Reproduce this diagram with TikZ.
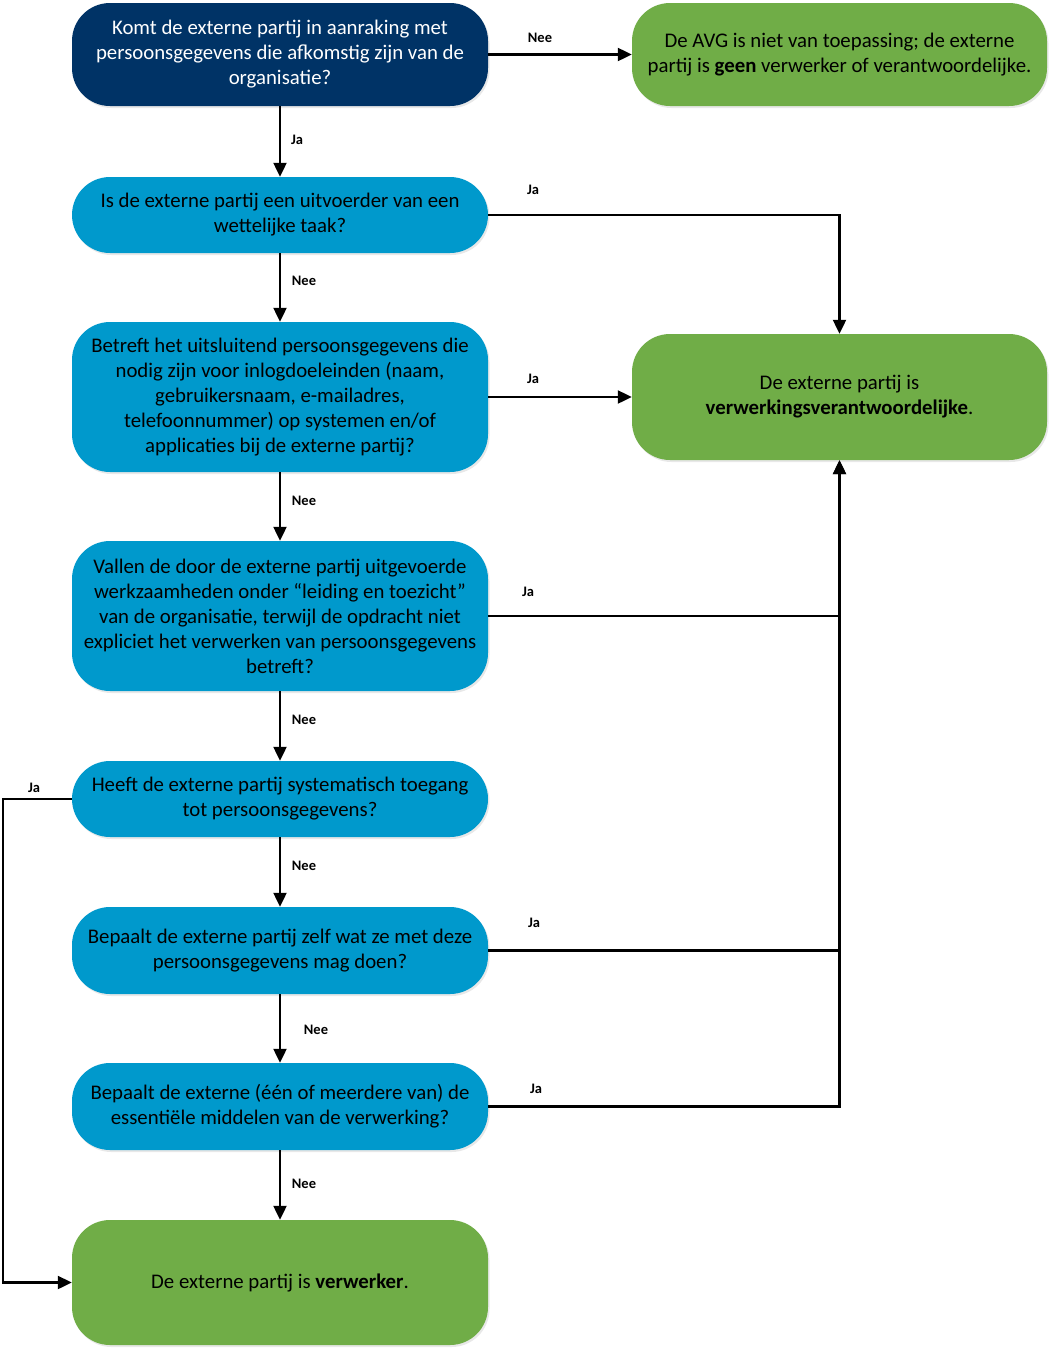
\documentclass[tikz,border=0pt]{standalone}
\usepackage{fontspec}
\setmainfont{Carlito}
\usetikzlibrary{arrows.meta,shadows}
\definecolor{navy}{HTML}{003366}
\definecolor{cyanbox}{HTML}{0099CC}
\definecolor{greenbox}{HTML}{70AD47}
\begin{document}
\begin{tikzpicture}[x=1pt,y=-1pt,
  box/.style={rounded corners=38pt, minimum width=416pt, inner sep=0pt, align=center,
    font=\fontsize{20.8}{25}\selectfont,
    drop shadow={opacity=0.18, shadow xshift=1.5pt, shadow yshift=-2pt}},
  qbox/.style={box, fill=cyanbox, text=black},
  nbox/.style={box, fill=navy, text=white},
  gbox/.style={box, fill=greenbox, text=black},
  lbl/.style={font=\fontsize{14.5}{16}\selectfont\bfseries, inner sep=0pt},
  conn/.style={line width=2.2pt},
  arr/.style={conn, -{Triangle[length=14pt,width=13pt]}}]
\useasboundingbox (0,0) rectangle (1050,1358);

\node[nbox, minimum height=103pt] (b1) at (280,54.5) {Komt de externe partij in aanraking met\\persoonsgegevens die afkomstig zijn van de\\organisatie?};
\node[gbox, minimum width=415pt, minimum height=103pt] (g1) at (839.5,54.5) {De AVG is niet van toepassing; de externe\\partij is \textbf{geen} verwerker of verantwoordelijke.};
\node[qbox, minimum height=76pt] (b2) at (280,215) {Is de externe partij een uitvoerder van een\\wettelijke taak?};
\node[qbox, minimum height=150pt] (b3) at (280,397) {Betreft het uitsluitend persoonsgegevens die\\nodig zijn voor inlogdoeleinden (naam,\\gebruikersnaam, e-mailadres,\\telefoonnummer) op systemen en/of\\applicaties bij de externe partij?};
\node[gbox, minimum width=415pt, minimum height=126pt] (g2) at (839.5,397) {De externe partij is\\\textbf{verwerkingsverantwoordelijke}.};
\node[qbox, minimum height=150pt] (b4) at (280,616) {Vallen de door de externe partij uitgevoerde\\werkzaamheden onder “leiding en toezicht”\\van de organisatie, terwijl de opdracht niet\\expliciet het verwerken van persoonsgegevens\\betreft?};
\node[qbox, minimum height=76pt] (b5) at (280,799) {Heeft de externe partij systematisch toegang\\tot persoonsgegevens?};
\node[qbox, minimum height=87pt] (b6) at (280,950.5) {Bepaalt de externe partij zelf wat ze met deze\\persoonsgegevens mag doen?};
\node[qbox, minimum height=87pt] (b7) at (280,1106.5) {Bepaalt de externe (één of meerdere van) de\\essentiële middelen van de verwerking?};
\node[gbox, minimum height=125pt] (b8) at (280,1282.5) {De externe partij is \textbf{verwerker}.};

\coordinate (L) at (3,799);

\draw[arr] (b1.east) -- (g1.west);
\draw[arr] (b1.south) -- (b2.north);
\draw[arr] (b2.east) -| (g2.north);
\draw[arr] (b2.south) -- (b3.north);
\draw[arr] (b3.east) -- (g2.west);
\draw[arr] (b3.south) -- (b4.north);
\draw[arr] (b4.east) -| (g2.south);
\draw[arr] (b4.south) -- (b5.north);
\draw[arr] (b5.west) -- (b5.west -| L) |- (b8.west);
\draw[arr] (b5.south) -- (b6.north);
\draw[conn] (b6.east) -- (b6.east -| g2.south);
\draw[arr] (b6.south) -- (b7.north);
\draw[arr] (b7.east) -| (g2.south);
\draw[arr] (b7.south) -- (b8.north);

\node[lbl] (l1) at (540,38) {Nee};
\node[lbl] (l2) at (297,140) {Ja};
\node[lbl] (l3) at (533,190) {Ja};
\node[lbl] (l4) at (304,281) {Nee};
\node[lbl] (l5) at (533,379) {Ja};
\node[lbl] (l6) at (304,501) {Nee};
\node[lbl] (l7) at (528,592) {Ja};
\node[lbl] (l8) at (304,720) {Nee};
\node[lbl] (l9) at (34,788) {Ja};
\node[lbl] (l10) at (304,866) {Nee};
\node[lbl] (l11) at (534,923) {Ja};
\node[lbl] (l12) at (316,1030) {Nee};
\node[lbl] (l13) at (536,1089) {Ja};
\node[lbl] (l14) at (304,1184) {Nee};
\end{tikzpicture}
\end{document}
